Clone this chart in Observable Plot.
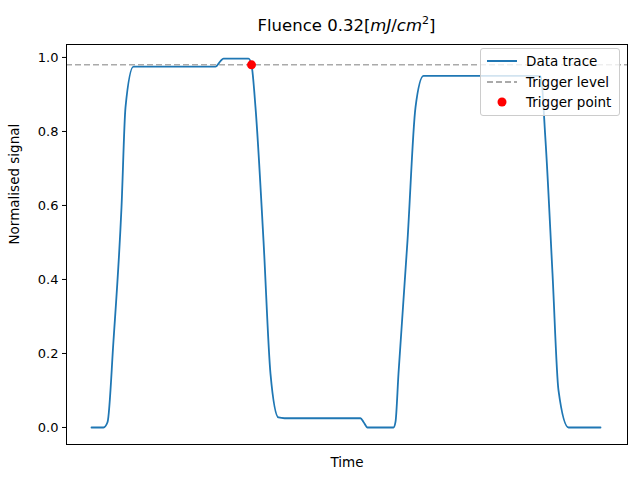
<!DOCTYPE html>
<html><head><meta charset="utf-8">
<script src="https://cdn.jsdelivr.net/npm/d3@7"></script>
<script src="https://cdn.jsdelivr.net/npm/@observablehq/plot@0.6"></script>
<style>
body{margin:0;background:#fff;font-family:"DejaVu Sans",sans-serif;}
#wrap{position:relative;width:640px;height:480px;}
#chart{position:absolute;left:0;top:0;}
#title{position:absolute;top:14px;left:66px;width:561px;text-align:center;font-size:16.5px;}
#legend{position:absolute;left:480px;top:48px;width:138px;height:66px;border:1px solid #ccc;border-radius:3px;background:rgba(255,255,255,0.8);font-size:13.5px;}
.row{position:absolute;left:6px;height:20px;display:flex;align-items:center;}
.sym{width:30px;margin-right:9px;display:flex;justify-content:center;}
</style></head><body>
<div id="wrap">
<div id="chart"></div>
<div id="title">Fluence 0.32[<i>mJ</i>/<i>cm</i><sup style="font-size:11px">2</sup>]</div>
<div id="legend">
 <div class="row" style="top:2px"><div class="sym"><svg width="30" height="4"><line x1="0" y1="2" x2="30" y2="2" stroke="#1f77b4" stroke-width="2"/></svg></div>Data trace</div>
 <div class="row" style="top:23px"><div class="sym"><svg width="30" height="4"><line x1="0" y1="2" x2="30" y2="2" stroke="#aaa" stroke-width="2" stroke-dasharray="6,3"/></svg></div>Trigger level</div>
 <div class="row" style="top:43px"><div class="sym"><svg width="12" height="12"><circle cx="6" cy="6" r="4.5" fill="red"/></svg></div>Trigger point</div>
</div>
</div>
<script>
const time = [0,12,16,22,30,34,42,124,129,132,157,160,164,172,179,187,193,269,272,276,302,304,307,316,324,332,449,454,461,467,477,509];
const signal = [0,0,0.014,0.235,0.595,0.865,0.975,0.975,0.99,0.997,0.997,0.98,0.865,0.505,0.145,0.027,0.025,0.025,0.015,0,0,0.015,0.146,0.505,0.865,0.95,0.95,0.776,0.416,0.1,0,0];
const triggerLevel = 0.98;
const triggerTime = 160;
const yTicks = [0, 0.2, 0.4, 0.6, 0.8, 1.0];

const trace = time.map((t, i) => ({t, v: signal[i]}));
const chart = Plot.plot({
  width: 640, height: 480,
  marginLeft: 66, marginRight: 13, marginTop: 44, marginBottom: 36,
  style: {fontFamily: "DejaVu Sans", fontSize: "13px", color: "black"},
  x: {domain: [-25, 536], axis: null},
  y: {domain: [-0.046, 1.035], axis: null},
  marks: [
    Plot.axisY({ticks: yTicks, tickFormat: d3.format(".1f"), tickSize: 4, tickPadding: 4, fontSize: 13, label: null}),
    Plot.line(trace, {x: "t", y: "v", stroke: "#1f77b4", strokeWidth: 1.8, curve: "monotone-x"}),
    Plot.ruleY([triggerLevel], {stroke: "#aaa", strokeWidth: 1.5, strokeDasharray: "6,3"}),
    Plot.dot([{t: triggerTime, v: triggerLevel}], {x: "t", y: "v", r: 4.5, fill: "red"}),
    Plot.frame({stroke: "black"}),
    Plot.text(["Time"], {frameAnchor: "bottom", dy: 13, lineAnchor: "top", fontSize: 13.5}),
    Plot.text(["Normalised signal"], {frameAnchor: "left", dx: -52, rotate: -90, fontSize: 13.5})
  ]
});
document.getElementById("chart").appendChild(chart);
</script>
</body></html>
